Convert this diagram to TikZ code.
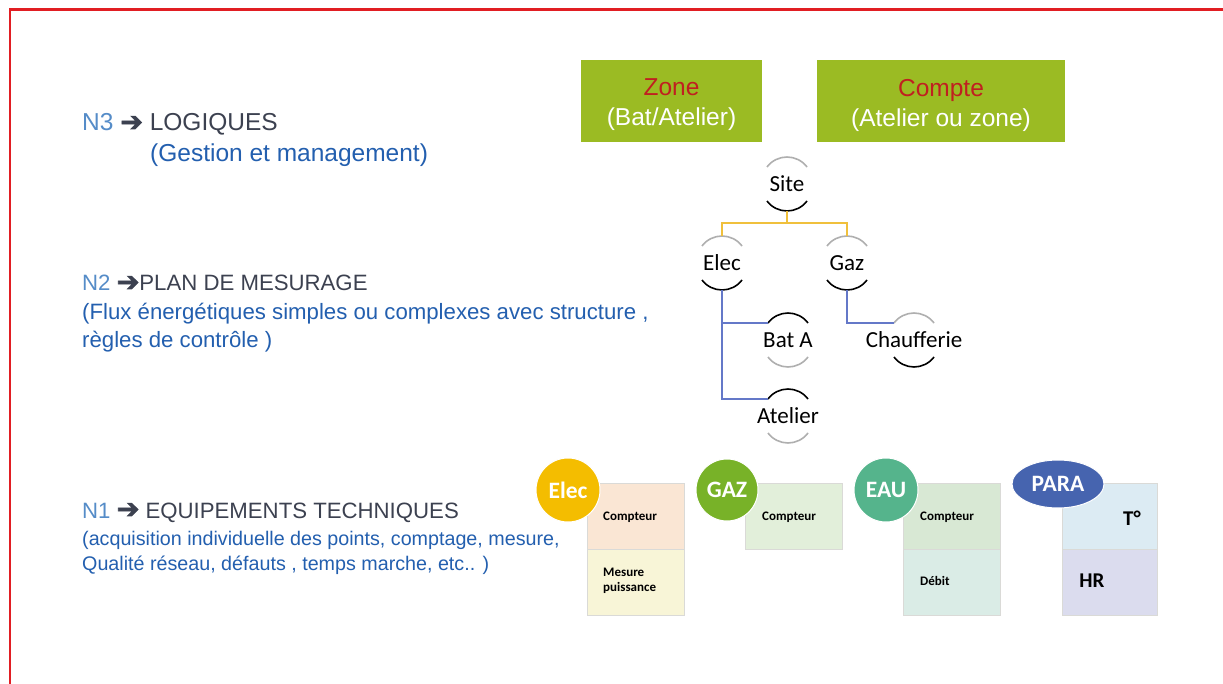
\documentclass[tikz,border=0pt]{standalone}
\usepackage{fontspec}
\setmainfont{Liberation Sans}
\newfontfamily\carl{Carlito}
\newfontfamily\djv[FakeBold=2.5]{DejaVu Sans}
\usetikzlibrary{calc,shapes.geometric}
\definecolor{framered}{RGB}{225,30,35}
\definecolor{nlab}{RGB}{85,140,200}
\definecolor{ndark}{RGB}{60,65,80}
\definecolor{nblue}{RGB}{35,95,175}
\definecolor{zgreen}{RGB}{155,187,35}
\definecolor{zred}{RGB}{192,32,32}
\definecolor{yline}{RGB}{240,192,60}
\definecolor{bline}{RGB}{100,120,200}
\definecolor{arcgray}{RGB}{175,175,175}
\definecolor{elecC}{RGB}{244,189,0}
\definecolor{gazC}{RGB}{120,178,40}
\definecolor{eauC}{RGB}{85,180,140}
\definecolor{paraC}{RGB}{70,100,175}
\definecolor{elecT}{RGB}{250,230,212}
\definecolor{elecB}{RGB}{248,245,215}
\definecolor{gazT}{RGB}{226,239,218}
\definecolor{eauT}{RGB}{216,232,212}
\definecolor{eauB}{RGB}{218,236,230}
\definecolor{paraT}{RGB}{220,235,243}
\definecolor{paraB}{RGB}{219,220,238}
\definecolor{boxline}{RGB}{218,218,215}
\newcommand\toparc[2]{\draw[#2] ($(#1.center)+(-20,-17)$) .. controls +(10,-13.3) and +(-10,-13.3) .. ($(#1.center)+(20,-17)$);}
\newcommand\botarc[2]{\draw[#2] ($(#1.center)+(-20,17)$) .. controls +(10,13.3) and +(-10,13.3) .. ($(#1.center)+(20,17)$);}
\newcommand\harrow{{\djv\fontsize{27}{28}\selectfont ➔}}
\tikzset{
  zonebox/.style={fill=zgreen, inner sep=0, minimum height=82},
  zonetxt/.style={inner sep=0, align=center, text=white, font=\fontsize{24.5}{30}\selectfont},
  treelbl/.style={inner sep=0, font=\carl\fontsize{23}{26}\selectfont},
  garc/.style={arcgray, line width=1.6},
  karc/.style={black, line width=1.6},
  yconn/.style={yline, line width=1.4},
  bconn/.style={bline, line width=1.4},
  cell/.style={draw=boxline, line width=0.6, inner sep=0, minimum width=97, minimum height=66},
  badgetxt/.style={draw=white, line width=1, inner sep=0, text=white, font=\carl\bfseries\fontsize{23.5}{26}\selectfont},
  badge/.style={circle, badgetxt, minimum size=64},
  small/.style={inner sep=0, anchor=west, align=left, font=\carl\bfseries\fontsize{13}{15}\selectfont},
  big/.style={inner sep=0, font=\carl\bfseries\fontsize{21}{24}\selectfont},
  lefttxt/.style={inner sep=0, anchor=base west}
}
\begin{document}
\begin{tikzpicture}[x=1pt,y=-1pt]
\useasboundingbox (0,0) rectangle (1223,684);
\fill[white] (0,0) rectangle (1223,684);
\draw[framered, line width=2.8] (10,690) -- (10,9.5) -- (1230,9.5);

% left texts
\node[lefttxt, font=\fontsize{24.5}{28}\selectfont] (n3) at (82,131) {\textcolor{nlab}{N3} \textcolor{ndark}{\harrow{} LOGIQUES}};
\node[lefttxt, font=\fontsize{24.5}{28}\selectfont, text=nblue] (n3b) at (150,162) {(Gestion et management)};
\node[lefttxt, font=\fontsize{22.2}{26}\selectfont] (n2) at (82,291) {\textcolor{nlab}{N2} \textcolor{ndark}{\harrow{}PLAN DE MESURAGE}};
\node[lefttxt, font=\fontsize{22.2}{26}\selectfont, text=nblue] (n2b) at (82,320) {(Flux énergétiques simples ou complexes avec structure ,};
\node[lefttxt, font=\fontsize{22.2}{26}\selectfont, text=nblue] (n2c) at (82,348) {règles de contrôle )};
\node[lefttxt, font=\fontsize{22.2}{26}\selectfont] (n1) at (82,518) {\textcolor{nlab}{N1} \textcolor{ndark}{\harrow{} EQUIPEMENTS TECHNIQUES}};
\node[lefttxt, font=\fontsize{19.7}{24}\selectfont, text=nblue] (n1b) at (82,545) {(acquisition individuelle des points, comptage, mesure,};
\node[lefttxt, font=\fontsize{19.7}{24}\selectfont, text=nblue] (n1c) at (82,570) {Qualité réseau, défauts , temps marche, etc.. )};

% zone boxes
\node[zonebox, minimum width=181] (zone) at (671.5,101) {};
\node[zonetxt] (zonet) at ($(zone.center)+(0,4)$) {\textcolor{zred}{Zone}\\(Bat/Atelier)};
\node[zonebox, minimum width=248] (compte) at (941,101) {};
\node[zonetxt] (comptet) at ($(compte.center)+(0,4)$) {\textcolor{zred}{Compte}\\(Atelier ou zone)};

% tree
\node[treelbl] (site) at (787,184) {Site};
\node[treelbl] (elec) at (722,263) {Elec};
\node[treelbl] (gaz) at (847,263) {Gaz};
\node[treelbl] (bata) at (788,340) {Bat A};
\node[treelbl] (chauf) at (914,340) {Chaufferie};
\node[treelbl] (atelier) at (788,416) {Atelier};

\toparc{site}{garc}\botarc{site}{karc}
\toparc{elec}{garc}\botarc{elec}{karc}
\toparc{gaz}{garc}\botarc{gaz}{karc}
\toparc{bata}{karc}\botarc{bata}{garc}
\toparc{chauf}{garc}\botarc{chauf}{karc}
\toparc{atelier}{karc}\botarc{atelier}{garc}

\draw[yconn] ($(site.center)+(0,27)$) -- ++(0,12) -| ($(elec.center)+(0,-27)$);
\draw[yconn] ($(site.center)+(0,27)$) -- ++(0,12) -| ($(gaz.center)+(0,-27)$);
\draw[bconn] ($(elec.center)+(0,27)$) |- ($(bata.center)+(-20,-17)$);
\draw[bconn] ($(elec.center)+(0,27)$) |- ($(atelier.center)+(-20,-17)$);
\draw[bconn] ($(gaz.center)+(0,27)$) |- ($(chauf.center)+(-20,-17)$);

% equipment boxes
\node[cell, fill=elecT] (elecT) at (635.5,516) {};
\node[cell, fill=elecB] (elecB) at (635.5,582) {};
\node[cell, fill=gazT] (gazT) at (793.5,516) {};
\node[cell, fill=eauT] (eauT) at (951.5,516) {};
\node[cell, fill=eauB] (eauB) at (951.5,582) {};
\node[cell, fill=paraT, minimum width=95] (paraT) at (1109.5,516) {};
\node[cell, fill=paraB, minimum width=95] (paraB) at (1109.5,582) {};

\node[small] (c1) at (603,517) {Compteur};
\node[small] (m1) at (603,581) {Mesure\\puissance};
\node[small] (c2) at (762,517) {Compteur};
\node[small] (c3) at (920,517) {Compteur};
\node[small] (d3) at (920,581) {Débit};
\node[big] (tdeg) at (1132,518) {T°};
\node[big] (hr) at (1092,581) {HR};

\node[badge, fill=elecC] (belec) at (568,490) {Elec};
\node[badge, fill=gazC, minimum size=62] (bgaz) at (727,490) {GAZ};
\node[badge, fill=eauC] (beau) at (886,490) {EAU};
\node[ellipse, badgetxt, fill=paraC, minimum width=92, minimum height=48] (bpara) at (1058,484) {PARA};
\end{tikzpicture}
\end{document}
